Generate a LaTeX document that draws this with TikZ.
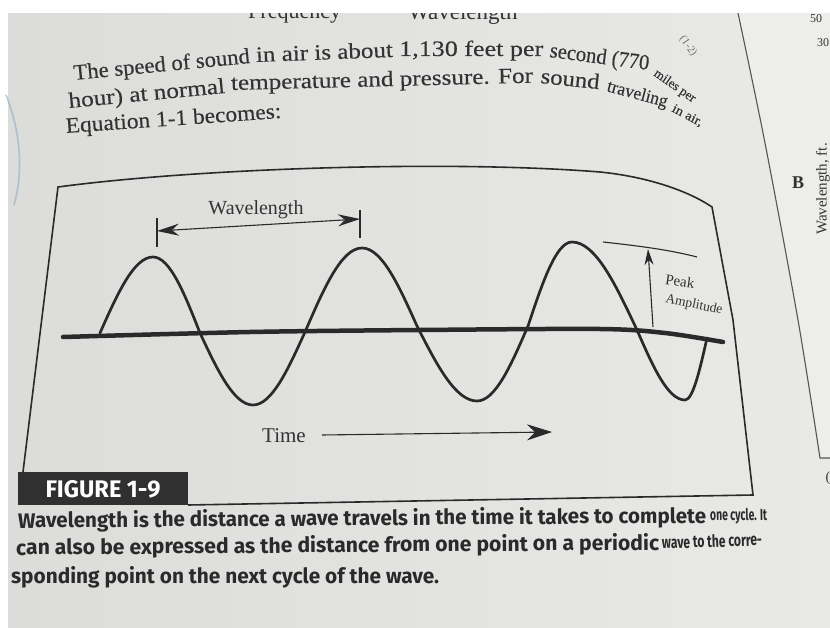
\documentclass[tikz,border=0pt]{standalone}
\usepackage{fontspec}
\usepackage{graphicx}
\setmainfont{Liberation Serif}
\newfontfamily\bodyfont[FakeBold=0.25]{Liberation Serif}
\newfontfamily\capfont{Fira Sans}
\usetikzlibrary{arrows.meta}
\definecolor{pageL}{HTML}{DCDCDA}
\definecolor{pageR}{HTML}{E9E9E7}
\definecolor{pageX}{HTML}{EDEDEB}
\definecolor{inkc}{HTML}{2A2A2A}
\definecolor{txtc}{HTML}{333333}
\definecolor{tabc}{HTML}{303030}
\definecolor{stampc}{HTML}{9DB4C8}
\tikzset{
  wave/.style={draw=inkc, line width=2.7pt, line join=round, line cap=round},
  axisline/.style={draw=inkc, line width=4.5pt, line cap=round},
  frame/.style={draw=inkc, line width=1.6pt, line join=miter},
  thinline/.style={draw=inkc, line width=1.1pt},
  lbl/.style={text=txtc, inner sep=0pt},
  bodyseg/.style={anchor=base west, inner sep=0pt, text=txtc, font=\bodyfont\fontsize{22}{24}\selectfont},
  captxt/.style={text=inkc, inner sep=0pt, anchor=base west},
  wlarrow/.style={thinline, {Stealth[length=22pt,width=12pt]}-{Stealth[length=22pt,width=12pt]}},
  peakarrow/.style={thinline, -{Stealth[length=16pt,width=9pt]}},
  timearrow/.style={thinline, -{Stealth[length=25pt,width=16pt]}},
}
\begin{document}
\begin{tikzpicture}[x=1pt,y=1pt]
\useasboundingbox (0,0) rectangle (830,-628);
\clip (0,0) rectangle (830,-628);
% page
\fill[white] (0,0) rectangle (830,-628);
\shade[left color=pageL, right color=pageR] (8,-13) rectangle (830,-628);
\fill[pageX] (738,-13) -- (765,-143) -- (798,-320) -- (820,-458) -- (830,-458) -- (830,-13) -- cycle;
% page divider
\draw[draw=inkc!80, line width=1.1pt] plot[smooth] coordinates {(738,-13) (765,-143) (798,-320) (820,-458)} -- (830,-458);
% stamp trace
\draw[stampc, line width=1.6pt, opacity=0.7] (6,-95) .. controls (20,-130) and (24,-170) .. (14,-205);

% header words (cut off)
\node[lbl, anchor=base west, font=\fontsize{22}{24}\selectfont] (hfreq) at (248,-19) {Frequency};
\node[lbl, anchor=base west, font=\fontsize{23}{24}\selectfont] (hwave) at (408,-20) {Wavelength};
\fill[white] (0,0) rectangle (830,-13);

% body text, line 1
\node[bodyseg, rotate=5.5] (l1a) at (74,-80) {\resizebox{177pt}{\height}{The speed of sound}};
\node[bodyseg, rotate=2.1] (l1b) at (256,-62) {\resizebox{137pt}{\height}{in air is about}};
\node[bodyseg, rotate=0] (l1c) at (399,-56) {\resizebox{144pt}{\height}{1,130 feet per}};
\node[bodyseg, rotate=-7.5] (l1d) at (549,-57) {\resizebox{100pt}{\height}{second (770}};
\node[bodyseg, rotate=-35, font=\bodyfont\fontsize{13}{15}\selectfont] (l1e) at (653,-75) {\resizebox{48pt}{\height}{miles per}};
% line 2
\node[bodyseg, rotate=5.5] (l2a) at (69,-108) {\resizebox{157pt}{\height}{hour) at normal}};
\node[bodyseg, rotate=1.4] (l2b) at (231,-90) {\resizebox{302pt}{\height}{temperature and pressure. For}};
\node[bodyseg, rotate=-6] (l2c) at (540,-83) {\resizebox{59pt}{\height}{sound}};
\node[bodyseg, rotate=-15, font=\bodyfont\fontsize{18}{20}\selectfont] (l2d) at (606,-91) {\resizebox{62pt}{\height}{traveling}};
\node[bodyseg, rotate=-28, font=\bodyfont\fontsize{13}{15}\selectfont] (l2e) at (671,-111) {\resizebox{33pt}{\height}{in air,}};
% line 3
\node[bodyseg, rotate=4] (l3) at (66,-133) {\resizebox{216pt}{\height}{Equation 1-1 becomes:}};
\node[lbl, rotate=-55, font=\fontsize{11}{13}\selectfont, text=txtc!70] (eqno) at (688,-46) {(1-2)};

% right page fragments
\node[lbl, anchor=base west, font=\fontsize{12}{14}\selectfont] (n50) at (810,-23) {50};
\node[lbl, anchor=base west, font=\fontsize{12}{14}\selectfont] (n30) at (817,-47) {30};
\node[lbl, font=\bfseries\fontsize{18}{20}\selectfont] (bB) at (798,-183) {B};
\node[lbl, rotate=90, anchor=east, font=\fontsize{15}{17}\selectfont] (wlft) at (823,-143) {Wavelength, ft.};
\node[lbl, font=\fontsize{14}{16}\selectfont] (paren) at (828,-478) {(};

% figure frame
\draw[frame] (23,-472) -- (58,-187) .. controls (200,-168) and (450,-160) .. (600,-172)
  .. controls (650,-177) and (690,-192) .. (712,-207) -- (733,-320) -- (753,-495) -- (188,-505);
\fill[tabc] (18,-472) rectangle (188,-505);
\node[inner sep=0pt, text=white] (fig) at (103,-489)
  {\resizebox{115pt}{\height}{\capfont\bfseries\fontsize{24}{24}\selectfont FIGURE 1-9}};

% axis and wave
\draw[axisline] plot[smooth] coordinates {(63,-337) (250,-332) (420,-330) (600,-329) (665,-333) (723,-342)};
\draw[wave] (100,-333) sin (153,-257) cos (200,-333) sin (253,-405) cos (305,-332)
  sin (362,-248) cos (417,-326) sin (477,-401) cos (528,-326) sin (572,-242)
  cos (637,-330) sin (685,-400) cos (707,-338);

% wavelength dimension
\coordinate (t1a) at (157,-218); \coordinate (t1b) at (157,-247);
\coordinate (t2a) at (360,-210); \coordinate (t2b) at (360,-238);
\coordinate (w1) at (157,-231); \coordinate (w2) at (360,-219);
\draw[thinline] (t1a) -- (t1b);
\draw[thinline] (t2a) -- (t2b);
\draw[wlarrow] (w1) -- (w2);
\node[lbl, font=\fontsize{20}{24}\selectfont] (wl) at (256,-210) {Wavelength};

% peak amplitude
\coordinate (pa1) at (603,-242); \coordinate (pa2) at (697,-257);
\coordinate (pb) at (653,-327); \coordinate (pt) at (648,-249);
\draw[thinline] (pa1) .. controls (640,-246) and (670,-250) .. (pa2);
\draw[peakarrow] (pb) -- (pt);
\node[lbl, rotate=-8, font=\fontsize{15}{17}\selectfont] (peak) at (680,-281) {Peak};
\node[lbl, rotate=-12, font=\fontsize{13.5}{15}\selectfont] (amp) at (694,-305) {Amplitude};

% time
\node[lbl, font=\fontsize{21}{24}\selectfont] (time) at (284,-436) {Time};
\coordinate (ta) at (322,-435); \coordinate (tb) at (552,-432);
\draw[timearrow] (ta) -- (tb);

% caption
\node[captxt, rotate=0.42] (c1) at (18,-528)
  {\resizebox{688pt}{\height}{\capfont\bfseries\fontsize{21}{24}\selectfont Wavelength is the distance a wave travels in the time it takes to complete}};
\node[captxt, rotate=1] (c1b) at (710,-521)
  {\resizebox{57pt}{\height}{\capfont\bfseries\fontsize{16}{18}\selectfont one cycle. It}};
\node[captxt, rotate=0.45] (c2) at (16,-555)
  {\resizebox{643pt}{\height}{\capfont\bfseries\fontsize{21}{24}\selectfont can also be expressed as the distance from one point on a periodic}};
\node[captxt, rotate=2] (c2b) at (662,-549)
  {\resizebox{100pt}{\height}{\capfont\bfseries\fontsize{17}{19}\selectfont wave to the corre-}};
\node[captxt] (c3) at (11,-583)
  {\resizebox{428pt}{\height}{\capfont\bfseries\fontsize{21}{24}\selectfont sponding point on the next cycle of the wave.}};
\end{tikzpicture}
\end{document}
